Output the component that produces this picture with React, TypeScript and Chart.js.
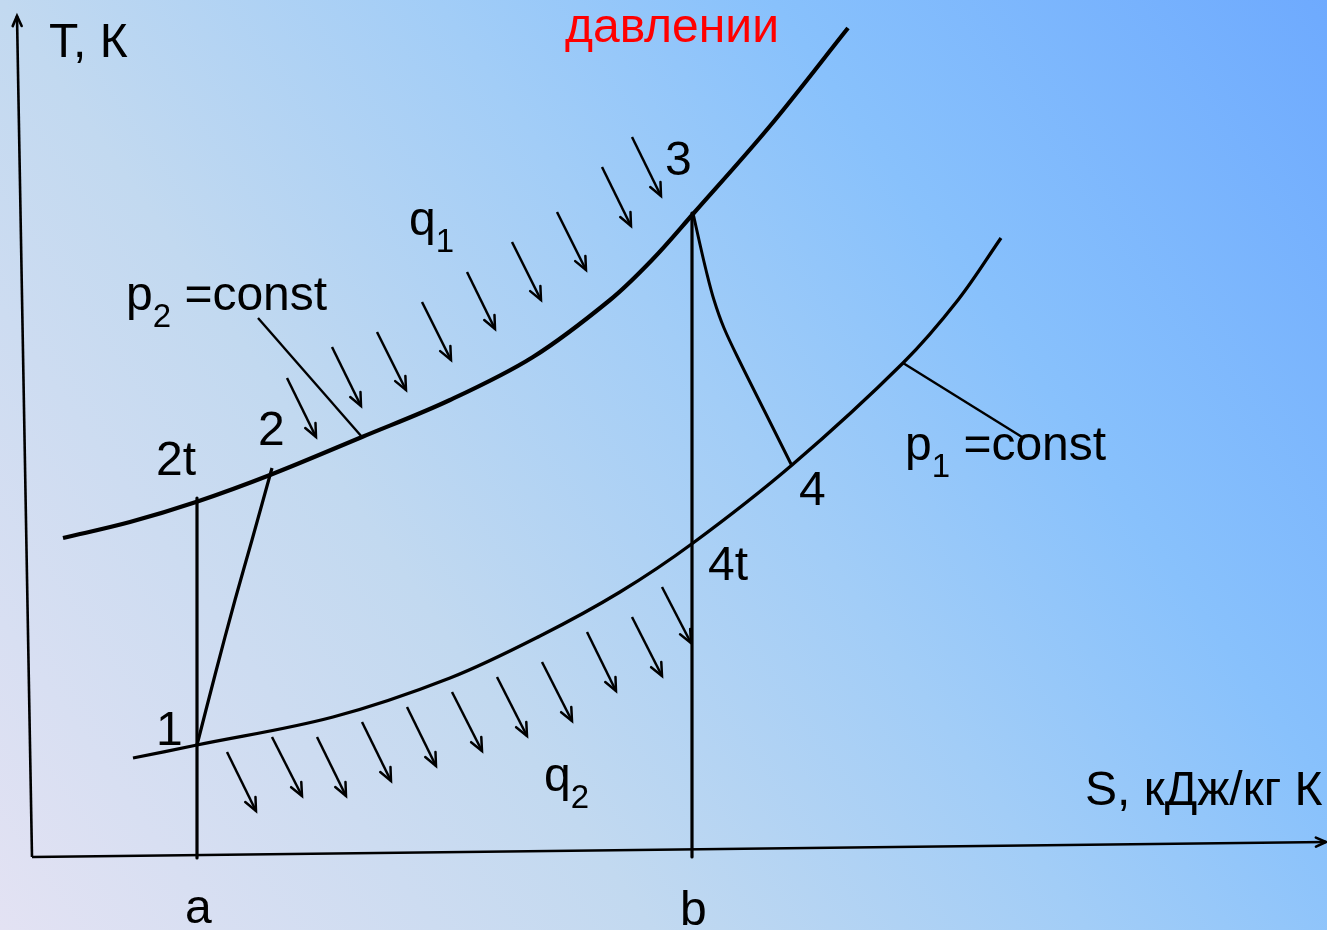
import React, { useEffect, useRef } from "react";
import { Chart, registerables } from "chart.js";

Chart.register(...registerables);

// Diagram units: S (entropy, arbitrary units 0..1327), T (temperature, arbitrary units 0..930)
const S_MAX = 1327;
const T_MAX = 930;

// Isobar p2 = const (upper curve)
const p2S = [63, 130, 196, 270, 362, 450, 533, 610, 652, 693, 770, 848];
const p2T = [392, 408, 428, 455, 493, 530, 573, 630, 670, 716, 804, 902];

// Isobar p1 = const (lower curve)
const p1S = [133, 197, 333, 450, 540, 620, 693, 792, 903, 958, 1001];
const p1T = [172, 185, 213, 252, 294, 338, 387, 465, 567, 630, 692];

// Real compression 1-2
const c12S = [197, 215, 235, 252, 272];
const c12T = [185, 255, 330, 390, 462];

// Real expansion 3-4
const e34S = [693, 699, 706, 714, 724, 740, 766, 792];
const e34T = [717, 690, 660, 630, 602, 568, 516, 464];

// Isentropes a and b (vertical lines)
const isoAS = [197, 197];
const isoAT = [432, 72];
const isoBS = [692, 692];
const isoBT = [717, 73];

// Axes
const axisYS = [32, 17];
const axisYT = [73, 914];
const axisXS = [32, 1326];
const axisXT = [73, 88];

// Leader lines to isobar labels
const leadP2S = [258, 362];
const leadP2T = [612, 493];
const leadP1S = [903, 1022];
const leadP1T = [567, 493];

// Heat-supply arrows q1 (start -> end)
const q1S0 = [287, 332, 377, 422, 467, 512, 557, 602, 632];
const q1T0 = [552, 583, 598, 628, 658, 688, 718, 763, 793];
const q1S1 = [316, 361, 406, 451, 495, 541, 586, 631, 661];
const q1T1 = [493, 524, 540, 570, 601, 630, 660, 704, 734];

// Heat-rejection arrows q2 (start -> end)
const q2S0 = [227, 272, 317, 362, 407, 452, 497, 542, 587, 632, 662];
const q2T0 = [178, 193, 193, 208, 223, 238, 253, 268, 298, 313, 343];
const q2S1 = [256, 302, 346, 391, 436, 482, 527, 572, 616, 662, 691];
const q2T1 = [119, 134, 134, 149, 164, 179, 194, 209, 239, 254, 287];

// Text annotations
const annotations = [
  { text: "T, К", s: 49, t: 873 },
  { text: "давлении", s: 565, t: 888, color: "#ff0000" },
  { text: "3", s: 665, t: 755 },
  { text: "q", sub: "1", s: 409, t: 695 },
  { text: "p", sub: "2", rest: " =const", s: 126, t: 620 },
  { text: "2", s: 258, t: 485 },
  { text: "2t", s: 156, t: 455 },
  { text: "1", s: 156, t: 185 },
  { text: "4", s: 799, t: 425 },
  { text: "4t", s: 708, t: 350 },
  { text: "p", sub: "1", rest: " =const", s: 905, t: 470 },
  { text: "q", sub: "2", s: 544, t: 139 },
  { text: "S, кДж/кг К", s: 1085, t: 125 },
  { text: "a", s: 185, t: 7 },
  { text: "b", s: 680, t: 5 },
];

const FONT = '"Liberation Sans", Arial, Helvetica, sans-serif';

function pts(xs: number[], ys: number[]) {
  return xs.map((x, i) => ({ x, y: ys[i] }));
}

function lineDs(xs: number[], ys: number[], width: number, smooth: boolean, extra: any = {}) {
  return {
    data: pts(xs, ys),
    showLine: true,
    borderColor: "#000000",
    backgroundColor: "#000000",
    borderWidth: width,
    pointRadius: 0,
    pointHoverRadius: 0,
    fill: false,
    borderJoinStyle: "round",
    cubicInterpolationMode: "default",
    tension: smooth ? 0.35 : 0,
    ...extra,
  };
}

const backgroundPlugin = {
  id: "bgGradient",
  beforeDraw(chart: any) {
    const { ctx, width, height } = chart;
    ctx.save();
    const g = ctx.createLinearGradient(0, height, width, 0);
    g.addColorStop(0, "#e3e2f3");
    g.addColorStop(0.33, "#c2d9f0");
    g.addColorStop(0.55, "#a2cdf7");
    g.addColorStop(0.72, "#88c1fc");
    g.addColorStop(1, "#6eaafe");
    ctx.fillStyle = g;
    ctx.fillRect(0, 0, width, height);
    ctx.restore();
  },
};

const arrowPlugin = {
  id: "arrowHeads",
  afterDatasetsDraw(chart: any) {
    const { ctx } = chart;
    chart.data.datasets.forEach((ds: any, i: number) => {
      if (!ds.arrowHead) return;
      const meta = chart.getDatasetMeta(i);
      const n = meta.data.length;
      if (n < 2) return;
      const a = meta.data[n - 2];
      const b = meta.data[n - 1];
      const ang = Math.atan2(b.y - a.y, b.x - a.x);
      const len = ds.arrowHead;
      const spread = 0.42;
      ctx.save();
      ctx.strokeStyle = "#000000";
      ctx.lineWidth = ds.borderWidth;
      ctx.lineCap = "round";
      ctx.lineJoin = "miter";
      ctx.beginPath();
      ctx.moveTo(b.x - len * Math.cos(ang - spread), b.y - len * Math.sin(ang - spread));
      ctx.lineTo(b.x, b.y);
      ctx.lineTo(b.x - len * Math.cos(ang + spread), b.y - len * Math.sin(ang + spread));
      ctx.stroke();
      ctx.restore();
    });
  },
};

const textPlugin = {
  id: "textLabels",
  afterDraw(chart: any) {
    const { ctx } = chart;
    const xs = chart.scales.x;
    const ys = chart.scales.y;
    ctx.save();
    ctx.textAlign = "left";
    ctx.textBaseline = "alphabetic";
    annotations.forEach((a: any) => {
      const x = xs.getPixelForValue(a.s);
      const y = ys.getPixelForValue(a.t);
      ctx.fillStyle = a.color || "#000000";
      ctx.font = `48px ${FONT}`;
      ctx.fillText(a.text, x, y);
      let cx = x + ctx.measureText(a.text).width;
      if (a.sub) {
        ctx.font = `33px ${FONT}`;
        ctx.fillText(a.sub, cx, y + 17);
        cx += ctx.measureText(a.sub).width;
      }
      if (a.rest) {
        ctx.font = `48px ${FONT}`;
        ctx.fillText(a.rest, cx, y);
      }
    });
    ctx.restore();
  },
};

export default function App() {
  const ref = useRef<HTMLCanvasElement | null>(null);

  useEffect(() => {
    document.body.style.margin = "0";
    const canvas = ref.current;
    if (!canvas) return;

    const datasets: any[] = [
      lineDs(axisYS, axisYT, 2.6, false, { arrowHead: 11 }),
      lineDs(axisXS, axisXT, 2.6, false, { arrowHead: 11 }),
      lineDs(p2S, p2T, 4.2, true),
      lineDs(p1S, p1T, 3.3, true),
      lineDs(c12S, c12T, 3.2, true),
      lineDs(e34S, e34T, 3, true),
      lineDs(isoAS, isoAT, 3.2, false),
      lineDs(isoBS, isoBT, 3.2, false),
      lineDs(leadP2S, leadP2T, 2.4, false),
      lineDs(leadP1S, leadP1T, 2.4, false),
    ];
    q1S0.forEach((s, i) => {
      datasets.push(lineDs([s, q1S1[i]], [q1T0[i], q1T1[i]], 2.5, false, { arrowHead: 14 }));
    });
    q2S0.forEach((s, i) => {
      datasets.push(lineDs([s, q2S1[i]], [q2T0[i], q2T1[i]], 2.5, false, { arrowHead: 14 }));
    });

    const chart = new Chart(canvas, {
      type: "scatter",
      data: { datasets },
      options: {
        responsive: false,
        maintainAspectRatio: false,
        animation: false,
        devicePixelRatio: 1,
        events: [],
        layout: { padding: 0 },
        scales: {
          x: { type: "linear", min: 0, max: S_MAX, display: false },
          y: { type: "linear", min: 0, max: T_MAX, display: false },
        },
        plugins: {
          legend: { display: false },
          tooltip: { enabled: false },
        },
      } as any,
      plugins: [backgroundPlugin, arrowPlugin, textPlugin],
    });

    return () => {
      chart.destroy();
    };
  }, []);

  return (
    <canvas
      ref={ref}
      width={1327}
      height={930}
      style={{ display: "block", width: "1327px", height: "930px" }}
    />
  );
}
